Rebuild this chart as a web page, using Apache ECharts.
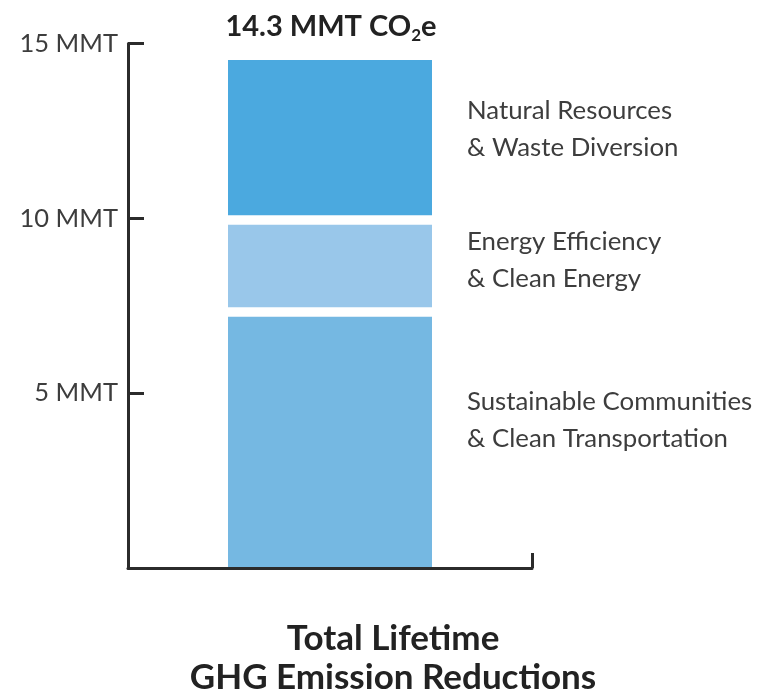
<!DOCTYPE html>
<html>
<head>
<meta charset="utf-8">
<script src="https://cdn.jsdelivr.net/npm/echarts@6/dist/echarts.min.js"></script>
<style>
  html, body { margin: 0; padding: 0; background: #ffffff; }
  #chart { width: 765px; height: 692px; }
</style>
</head>
<body>
<div id="chart"></div>
<script>
// ---- data ----
var categories = ['Total'];
var seriesNames = [
  'Sustainable Communities\n& Clean Transportation',
  'Energy Efficiency\n& Clean Energy',
  'Natural Resources\n& Waste Diversion'
];
var sustainableValues = [7.33];
var efficiencyValues = [2.63];
var naturalValues = [4.57];
var yTickValues = [0, 5, 10, 15];
var totalLabel = '14.3 MMT CO{sub|2}e';
var bottomTitle = 'Total Lifetime\nGHG Emission Reductions';

var colors = ['#75b8e2', '#99c7ea', '#4ba9df'];
var labelOffsets = [[0, -20], [0, -5], [0, -11]];
var FONT = 'Lato, "Noto Sans", sans-serif';

var chart = echarts.init(document.getElementById('chart'), null, { renderer: 'canvas' });

var valueSets = [sustainableValues, efficiencyValues, naturalValues];
// boundaries between stacked segments (cumulative sums), drawn as white separators
var cumulative = 0;
var series = valueSets.map(function (vals, i) {
  var base = cumulative;
  cumulative += vals[0];
  var s = {
    name: seriesNames[i],
    type: 'bar',
    stack: 'total',
    data: vals,
    barWidth: 204,
    itemStyle: { color: colors[i] },
    label: {
      show: true,
      position: 'right',
      distance: 35,
      offset: labelOffsets[i],
      formatter: '{a}',
      color: '#3d3d3d',
      fontFamily: FONT,
      fontSize: 25.8,
      lineHeight: 37,
      align: 'left'
    },
    emphasis: { disabled: true }
  };
  if (i > 0) {
    s.markLine = {
      silent: true,
      symbol: 'none',
      label: { show: false },
      lineStyle: { color: '#ffffff', width: 9.5, type: 'solid' },
      data: [{ yAxis: base }]
    };
  }
  return s;
});

chart.setOption({
  animation: false,
  backgroundColor: '#ffffff',
  title: [
    {
      text: totalLabel,
      left: 326,
      top: 4,
      textAlign: 'center',
      textStyle: {
        fontFamily: FONT, fontSize: 29, fontWeight: 'bold', color: '#222222',
        rich: { sub: { fontFamily: FONT, fontSize: 17, fontWeight: 'bold', color: '#222222', padding: [18, 0, 0, 0] } }
      }
    },
    {
      text: bottomTitle,
      left: 388,
      top: 614,
      textAlign: 'center',
      textStyle: { fontFamily: FONT, fontSize: 35, fontWeight: 'bold', color: '#222222', lineHeight: 39 }
    }
  ],
  grid: { left: 128, top: 43.5, width: 404, height: 524.4, containLabel: false },
  xAxis: {
    type: 'category',
    data: categories,
    z: 5,
    axisLine: { show: true, lineStyle: { color: '#2b2b2b', width: 3, cap: 'round' } },
    axisTick: { show: true, inside: true, length: 15, lineStyle: { color: '#2b2b2b', width: 3 } },
    axisLabel: { show: false },
    splitLine: { show: false }
  },
  yAxis: {
    type: 'value',
    min: 0,
    max: 15,
    interval: 5,
    z: 5,
    axisLine: { show: true, lineStyle: { color: '#2b2b2b', width: 3 } },
    axisTick: {
      show: true, inside: true, length: 16,
      lineStyle: { color: '#2b2b2b', width: 3 },
      customValues: yTickValues.slice(1)
    },
    axisLabel: {
      show: true,
      margin: 10,
      color: '#3d3d3d',
      fontFamily: FONT,
      fontSize: 25.5,
      customValues: yTickValues.slice(1),
      formatter: function (v) { return v + ' MMT'; }
    },
    splitLine: { show: false }
  },
  series: series
});
</script>
</body>
</html>
